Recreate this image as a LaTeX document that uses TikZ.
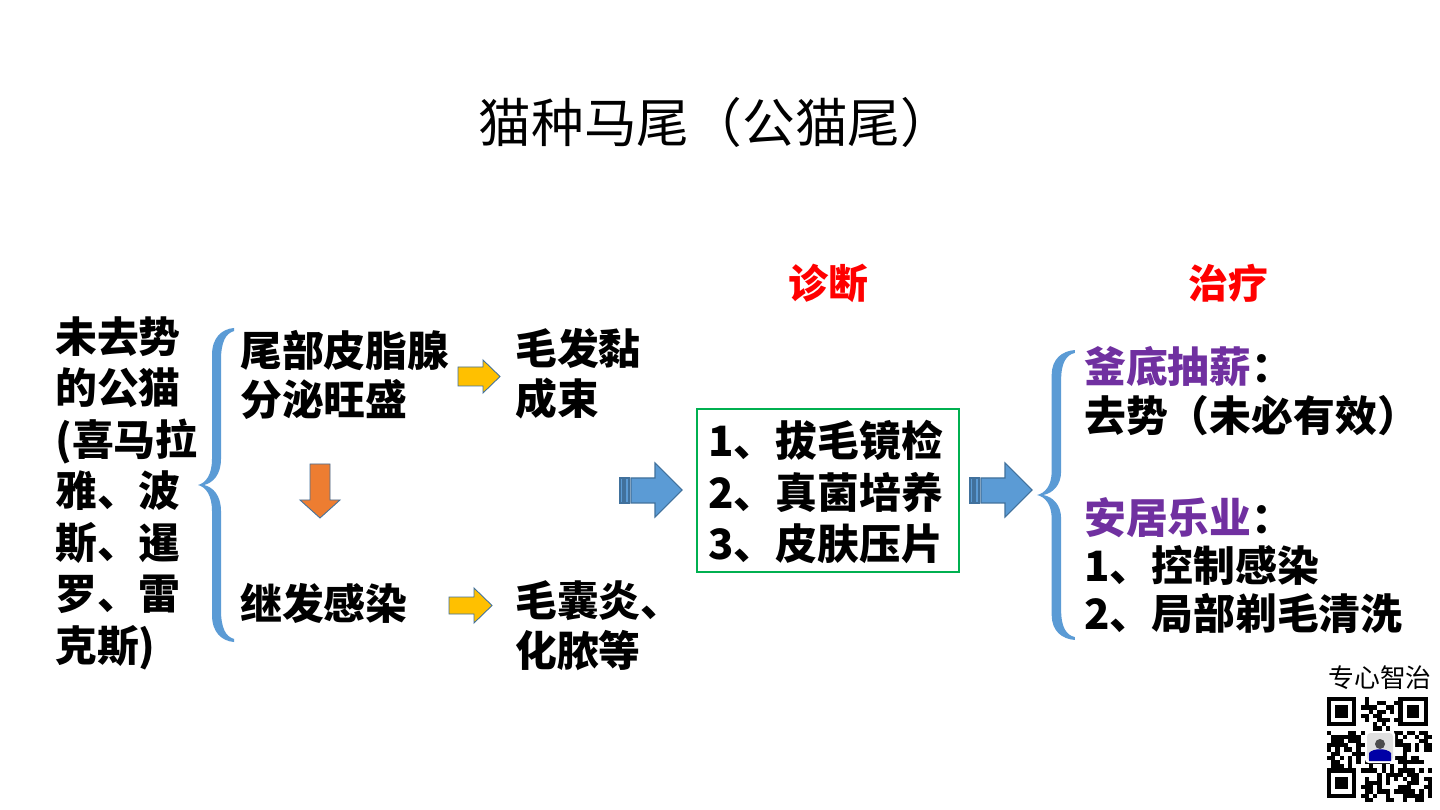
\documentclass[tikz,border=0pt]{standalone}
\usepackage{fontspec}
\setmainfont{Noto Sans CJK SC}
\definecolor{braceblue}{HTML}{5B9BD5}
\definecolor{arrowedge}{HTML}{41719C}
\definecolor{arroworange}{HTML}{ED7D31}
\definecolor{arrowyellow}{HTML}{FFC000}
\definecolor{boxgreen}{HTML}{00B050}
\definecolor{headpurple}{HTML}{7030A0}
\tikzset{
  body/.style={anchor=west, inner sep=0pt, align=left,
    font=\fontsize{23.8}{28.4}\selectfont\bfseries},
  redlabel/.style={inner sep=0pt, text=red, font=\fontsize{22.7}{26}\selectfont\bfseries},
  yarrow/.style={fill=arrowyellow, draw=arrowedge, line width=0.5pt},
  oarrow/.style={fill=arroworange, draw=arrowedge, line width=0.5pt},
  barrow/.style={fill=braceblue, draw=arrowedge, line width=0.6pt},
  bluebrace/.pic={
    \fill[braceblue] (36,-151) .. controls (24,-150) and (14,-142) .. (14,-125)
      -- (14,-25) .. controls (14,-10) and (8,-2) .. (0,0)
      .. controls (8,2) and (14,10) .. (14,25) -- (14,125)
      .. controls (14,142) and (24,150) .. (36,151) -- (36,148)
      .. controls (28,146) and (23,138) .. (23,120) -- (23,25)
      .. controls (23,10) and (15,2) .. (6,0)
      .. controls (15,-2) and (23,-10) .. (23,-25) -- (23,-120)
      .. controls (23,-138) and (28,-146) .. (36,-148) -- cycle;
  }
}
\begin{document}
\begin{tikzpicture}[x=0.02cm, y=-0.02cm]
  \fill[white] (0,0) rectangle (1440,810);
  \useasboundingbox (0,0) rectangle (1440,810);
  % title
  \node[inner sep=0pt, font=\fontsize{30}{34}\selectfont] (title) at (716,122) {猫种马尾（公猫尾）};
  % cause
  \node[body, font=\fontsize{23.8}{29.3}\selectfont\bfseries] (tom) at (55,493)
    {未去势\\的公猫\\(喜马拉\\雅、波\\斯、暹\\罗、雷\\克斯)};
  \pic[yscale=1.04] at (198,485) {bluebrace};
  \node[body] (gland) at (240,375) {尾部皮脂腺\\分泌旺盛};
  \node[body] (infect) at (240,603) {继发感染};
  \filldraw[oarrow] (310,464) -- (330,464) -- (330,500) -- (340,500) -- (320,518)
    -- (300,500) -- (310,500) -- cycle;
  \filldraw[yarrow] (458,367) -- (483,367) -- (483,360) -- (500,376.5) -- (483,393)
    -- (483,386) -- (458,386) -- cycle;
  \filldraw[yarrow] (449,597) -- (474,597) -- (474,588) -- (492,605.5) -- (474,623)
    -- (474,614) -- (449,614) -- cycle;
  \node[body] (matted) at (515,374) {毛发黏\\成束};
  \node[body] (follic) at (515,626) {毛囊炎、\\化脓等};
  % diagnosis
  \node[redlabel] (diag) at (828,283) {诊断};
  \filldraw[barrow] (620,478) rectangle (623,503);
  \filldraw[barrow] (625,478) rectangle (629,503);
  \filldraw[barrow] (631,478) -- (655,478) -- (655,463) -- (682,490) -- (655,517)
    -- (655,503) -- (631,503) -- cycle;
  \node[draw=boxgreen, line width=0.9pt, minimum width=5.24cm, minimum height=3.26cm]
    (box) at (828,490.5) {};
  \node[body, font=\fontsize{23.8}{29.5}\selectfont\bfseries] (tests) at (708,492)
    {1、拔毛镜检\\2、真菌培养\\3、皮肤压片};
  \filldraw[barrow] (970,478) rectangle (973,503);
  \filldraw[barrow] (975,478) rectangle (979,503);
  \filldraw[barrow] (981,478) -- (1005,478) -- (1005,463) -- (1032,490) -- (1005,517)
    -- (1005,503) -- (981,503) -- cycle;
  % treatment
  \node[redlabel] (treat) at (1228,283) {治疗};
  \pic[yscale=0.96, xscale=1.05] at (1037,495) {bluebrace};
  \node[body, font=\fontsize{23.8}{27.8}\selectfont\bfseries] (radical) at (1084,391.5)
    {\textcolor{headpurple}{釜底抽薪}：\\去势（未必有效）};
  \node[body, font=\fontsize{23.8}{27.5}\selectfont\bfseries] (comfort) at (1084,565.5)
    {\textcolor{headpurple}{安居乐业}：\\1、控制感染\\2、局部剃毛清洗};
  % qr
  \node[inner sep=0pt, font=\fontsize{14.7}{16}\selectfont] (qrtag) at (1380,678) {专心智治};
  \begin{scope}[shift={(1327,697)}]
    \pgfmathsetseed{11}
    \foreach \i in {0,...,24}
      \foreach \j in {0,...,24} {
        \pgfmathtruncatemacro\qrbit{rnd<0.5}
        \ifnum\qrbit=1 \fill (\i*4.2,\j*4.2) rectangle ++(4.2,4.2); \fi
      }
    \foreach \cx/\cy in {0/0, 17/0, 0/17} {
      \fill[white] (\cx*4.2-0.01,\cy*4.2-0.01) rectangle ++(8*4.2,8*4.2);
      \fill (\cx*4.2,\cy*4.2) rectangle ++(7*4.2,7*4.2);
      \fill[white] (\cx*4.2+4.2,\cy*4.2+4.2) rectangle ++(5*4.2,5*4.2);
      \fill (\cx*4.2+8.4,\cy*4.2+8.4) rectangle ++(3*4.2,3*4.2);
    }
    \fill[white, rounded corners=2pt] (38,34) rectangle (68,66);
    \fill[gray!25, rounded corners=2pt] (40,36) rectangle (66,64);
    \fill[blue!65!black] (42,64) -- (42,56) .. controls (46,51) and (60,51) .. (64,56) -- (64,64) -- cycle;
    \fill[black!70] (53,47) circle (5);
  \end{scope}
\end{tikzpicture}
\end{document}
